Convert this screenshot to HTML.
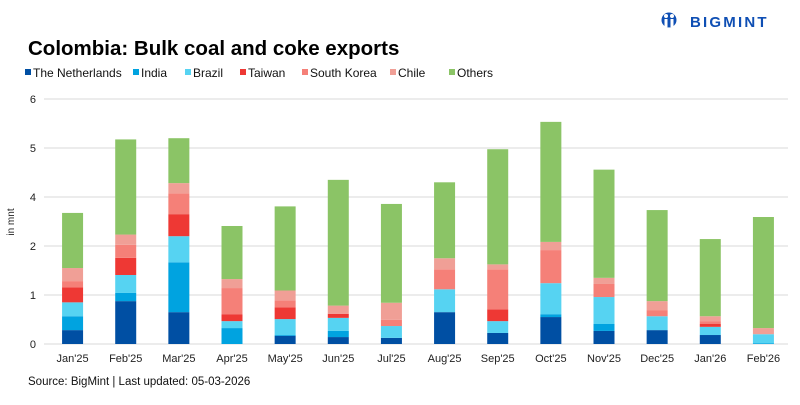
<!DOCTYPE html>
<html><head><meta charset="utf-8"><style>
body{margin:0;background:#fff;font-family:"Liberation Sans",Arial,sans-serif}
svg text{font-family:"Liberation Sans",Arial,sans-serif}
</style></head><body>
<svg id="chart" width="800" height="400" viewBox="0 0 800 400">
<rect width="800" height="400" fill="#fff"/>
<g>
<circle cx="669" cy="20" r="7.5" fill="#0f4fb4"/>
<circle cx="666" cy="16" r="2" fill="#fff"/><circle cx="672" cy="16" r="2" fill="#fff"/>
<rect x="664.5" y="19" width="3" height="8" fill="#fff"/><rect x="670.5" y="19" width="3" height="8" fill="#fff"/>
<text x="690" y="27" font-size="15" font-weight="bold" fill="#0f4fb4" letter-spacing="2.2">BIGMINT</text>
</g>
<text x="28" y="55" font-size="20.5" font-weight="bold" fill="#000">Colombia: Bulk coal and coke exports</text>
<g id="legend"></g>
<text x="14" y="222" font-size="10" fill="#222" transform="rotate(-90 14 222)" text-anchor="middle">in mnt</text>
<g id="grid"></g><g id="bars"></g><g id="xlabels"></g>
<text x="28" y="385" font-size="11.5" fill="#111">Source: BigMint | Last updated: 05-03-2026</text>
</svg>
<script>
const categories=["Jan'25","Feb'25","Mar'25","Apr'25","May'25","Jun'25","Jul'25","Aug'25","Sep'25","Oct'25","Nov'25","Dec'25","Jan'26","Feb'26"];
const seriesNames=["The Netherlands","India","Brazil","Taiwan","South Korea","Chile","Others"];
const netherlands=[0.34,1.05,0.78,0,0.20,0.17,0.15,0.78,0.27,0.66,0.32,0.34,0.22,0];
const india=[0.34,0.20,1.22,0.39,0.02,0.15,0,0,0,0.07,0.17,0,0,0.02];
const brazil=[0.34,0.44,0.64,0.17,0.39,0.32,0.29,0.56,0.29,0.76,0.66,0.34,0.20,0.22];
const taiwan=[0.37,0.42,0.54,0.17,0.29,0.10,0,0,0.29,0,0,0,0.07,0];
const southKorea=[0.15,0.32,0.51,0.64,0.17,0,0.15,0.49,0.98,0.81,0.32,0.15,0.07,0];
const chile=[0.32,0.25,0.25,0.22,0.24,0.20,0.42,0.27,0.12,0.20,0.15,0.22,0.12,0.15];
const others=[1.35,2.33,1.10,1.30,2.06,3.08,2.42,1.86,2.82,2.94,2.65,2.23,1.89,2.72];
const tickValues=[0,1.2,2.4,3.6,4.8,6];
const tickLabels=["0","1","2","4","5","6"];
const colors=["#004fa3","#00a3e0","#56d3f2","#ee3834","#f58078","#f09f96","#8bc466"];
const series=[netherlands,india,brazil,taiwan,southKorea,chile,others];
const NS="http://www.w3.org/2000/svg";
const y0=344,yTop=99,yMax=6,x0=44,x1=788;
const yScale=v=>y0-(v/yMax)*(y0-yTop);
const step=(x1-x0)/categories.length;
const xCenter=i=>x0+step*(i+0.5)+2;
const bw=21;
function mk(tag,attrs,parent){const e=document.createElementNS(NS,tag);for(const k in attrs)e.setAttribute(k,attrs[k]);parent.appendChild(e);return e;}
const grid=document.getElementById('grid');
tickValues.forEach((v,i)=>{
  const l=mk('line',{x1:x0,x2:x1,y1:yScale(v),y2:yScale(v),stroke:'#d9d9d9','stroke-width':1},grid);
  
  
  const t=mk('text',{x:36,y:yScale(v)+4,'font-size':11,'text-anchor':'end',fill:'#222'},grid);
  t.textContent=tickLabels[i];
  
  
});
const bars=document.getElementById('bars');
categories.forEach((c,i)=>{
  let cum=0;
  series.forEach((s,k)=>{
    const v=s[i];if(v<=0)return;
    const r=mk('rect',{x:xCenter(i)-bw/2,y:yScale(cum+v),width:bw,height:yScale(cum)-yScale(cum+v),fill:colors[k]},bars);
    
    
    cum+=v;
  });
  const t=mk('text',{x:xCenter(i),y:362,'font-size':11,'text-anchor':'middle',fill:'#222'},document.getElementById('xlabels'));
  t.textContent=c;
  
  
});
const lg=document.getElementById('legend');
const lx=[25,133,185,240,302,390,449];
seriesNames.forEach((n,k)=>{
  const r=mk('rect',{x:lx[k],y:69,width:6,height:6,fill:colors[k]},lg);
  
  
  const t=mk('text',{x:lx[k]+8,y:77,'font-size':12,fill:'#111'},lg);
  t.textContent=n;
  
  
});
</script>
</body></html>
